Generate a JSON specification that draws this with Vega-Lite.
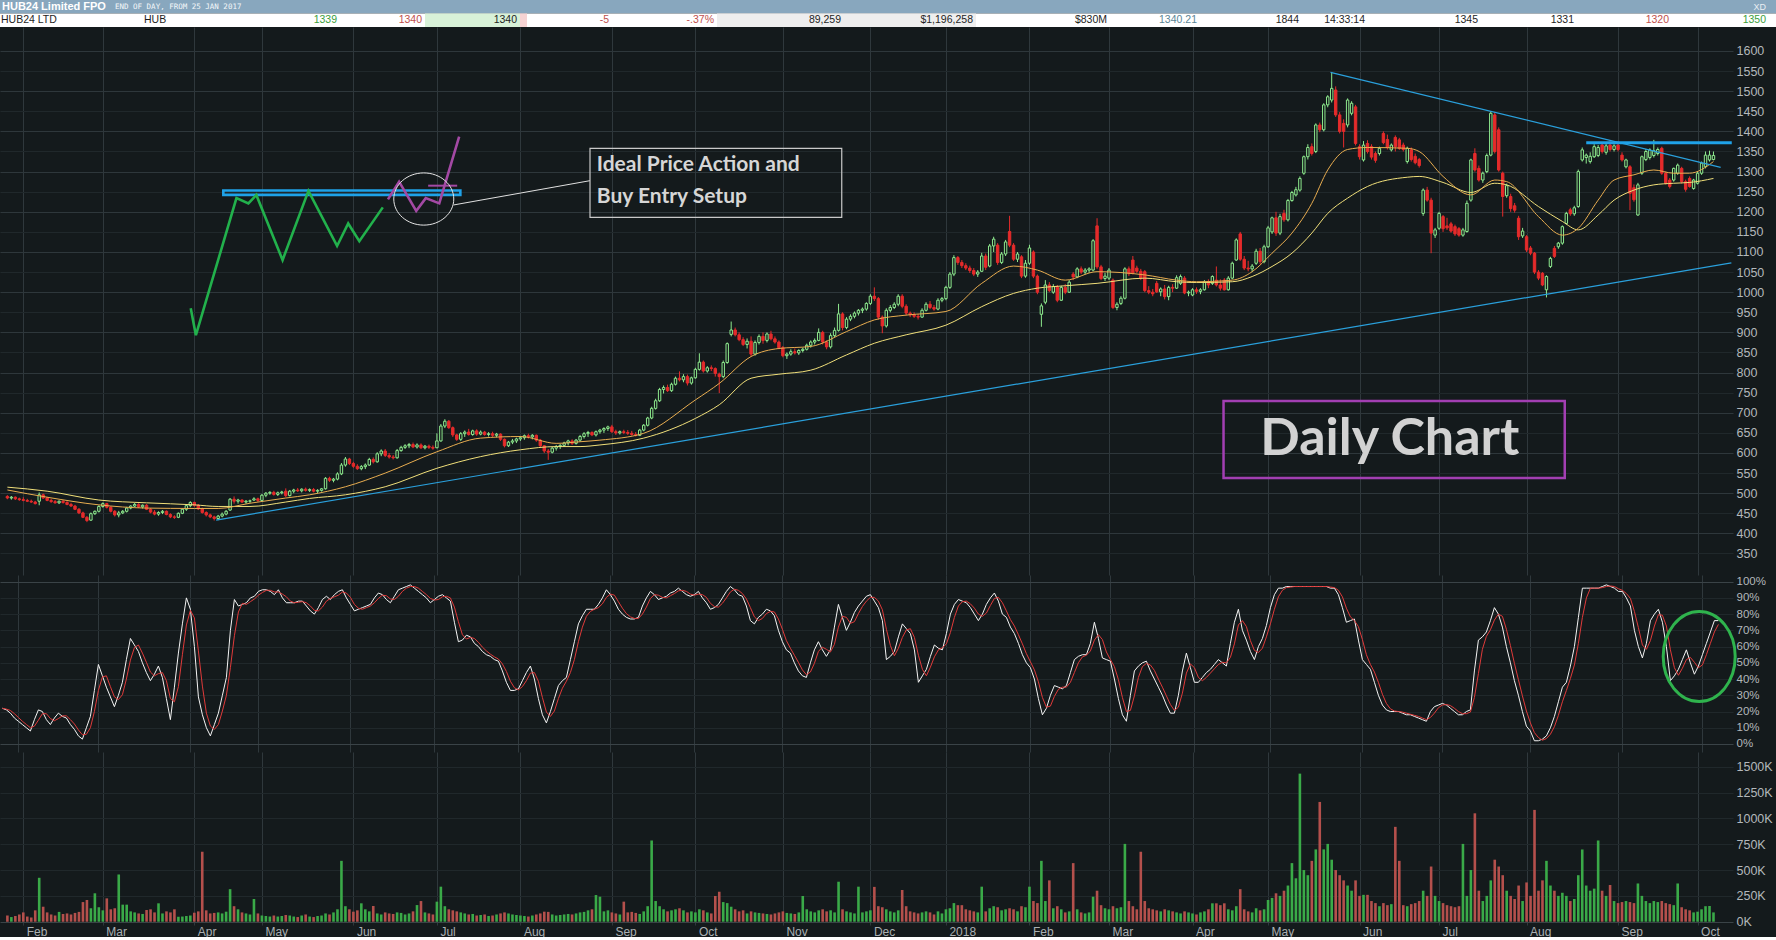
{
  "$schema": "https://vega.github.io/schema/vega-lite/v6.json",
  "background": "#141a1c",
  "padding": 0,
  "spacing": 0,
  "config": {"view": {"stroke": null}, "concat": {"spacing": 0}},
  "datasets": {
    "cells": [
      {"row": "title", "from": 0, "to": 20, "tone": "bar"},
      {"row": "info", "from": 0, "to": 20, "tone": "sheet"},
      {"row": "info", "from": 4, "to": 5, "tone": "bid"},
      {"row": "info", "from": 5, "to": 6, "tone": "ask"},
      {"row": "info", "from": 8, "to": 10, "tone": "shade"}
    ],
    "head": [
      {"row": "title", "col": 0, "role": "name", "text": "HUB24 Limited FPO"},
      {"row": "title", "col": 1, "role": "source", "text": "END OF DAY, FROM 25 JAN 2017"},
      {"row": "title", "col": 19, "role": "flag", "text": "XD"},
      {"row": "info", "col": 0, "role": "label", "text": "HUB24 LTD", "tone": "plain"},
      {"row": "info", "col": 2, "role": "label", "text": "HUB", "tone": "plain"},
      {"row": "info", "col": 3, "role": "value", "text": "1339", "tone": "up"},
      {"row": "info", "col": 4, "role": "value", "text": "1340", "tone": "down"},
      {"row": "info", "col": 5, "role": "value", "text": "1340", "tone": "plain"},
      {"row": "info", "col": 7, "role": "value", "text": "-5", "tone": "down"},
      {"row": "info", "col": 8, "role": "value", "text": "-.37%", "tone": "down"},
      {"row": "info", "col": 9, "role": "value", "text": "89,259", "tone": "plain"},
      {"row": "info", "col": 10, "role": "value", "text": "$1,196,258", "tone": "plain"},
      {"row": "info", "col": 12, "role": "value", "text": "$830M", "tone": "plain"},
      {"row": "info", "col": 13, "role": "value", "text": "1340.21", "tone": "muted"},
      {"row": "info", "col": 14, "role": "value", "text": "1844", "tone": "plain"},
      {"row": "info", "col": 15, "role": "value", "text": "14:33:14", "tone": "plain"},
      {"row": "info", "col": 16, "role": "value", "text": "1345", "tone": "plain"},
      {"row": "info", "col": 17, "role": "value", "text": "1331", "tone": "plain"},
      {"row": "info", "col": 18, "role": "value", "text": "1320", "tone": "down"},
      {"row": "info", "col": 19, "role": "value", "text": "1350", "tone": "up"}
    ],
    "ma": [
      {"i": 0, "f": 508, "s": 515}, {"i": 10, "f": 490, "s": 505}, {"i": 23, "f": 471, "s": 483},
      {"i": 35, "f": 463, "s": 476}, {"i": 47, "f": 462, "s": 471}, {"i": 53, "f": 462, "s": 467},
      {"i": 61, "f": 475, "s": 467}, {"i": 70, "f": 488, "s": 478}, {"i": 76, "f": 496, "s": 487},
      {"i": 85, "f": 516, "s": 496}, {"i": 95, "f": 550, "s": 516}, {"i": 108, "f": 603, "s": 562},
      {"i": 119, "f": 637, "s": 591}, {"i": 129, "f": 641, "s": 608}, {"i": 138, "f": 624, "s": 616},
      {"i": 144, "f": 628, "s": 616}, {"i": 149, "f": 632, "s": 620}, {"i": 160, "f": 649, "s": 637},
      {"i": 173, "f": 732, "s": 686}, {"i": 179, "f": 773, "s": 720}, {"i": 187, "f": 840, "s": 786},
      {"i": 194, "f": 860, "s": 796}, {"i": 202, "f": 865, "s": 806}, {"i": 211, "f": 902, "s": 844},
      {"i": 218, "f": 931, "s": 873}, {"i": 226, "f": 943, "s": 894}, {"i": 236, "f": 952, "s": 918},
      {"i": 245, "f": 1022, "s": 964}, {"i": 253, "f": 1065, "s": 997}, {"i": 259, "f": 1055, "s": 1010},
      {"i": 266, "f": 1030, "s": 1016}, {"i": 274, "f": 1051, "s": 1022}, {"i": 286, "f": 1043, "s": 1035},
      {"i": 294, "f": 1030, "s": 1026}, {"i": 299, "f": 1026, "s": 1024}, {"i": 308, "f": 1030, "s": 1026},
      {"i": 313, "f": 1051, "s": 1039}, {"i": 318, "f": 1097, "s": 1064}, {"i": 323, "f": 1147, "s": 1097},
      {"i": 328, "f": 1221, "s": 1147}, {"i": 332, "f": 1304, "s": 1196}, {"i": 337, "f": 1355, "s": 1234},
      {"i": 342, "f": 1360, "s": 1263}, {"i": 352, "f": 1358, "s": 1286}, {"i": 355, "f": 1350, "s": 1288},
      {"i": 361, "f": 1288, "s": 1273}, {"i": 368, "f": 1242, "s": 1248}, {"i": 374, "f": 1279, "s": 1271},
      {"i": 377, "f": 1275, "s": 1267}, {"i": 385, "f": 1188, "s": 1213}, {"i": 391, "f": 1142, "s": 1176},
      {"i": 395, "f": 1159, "s": 1155}, {"i": 400, "f": 1229, "s": 1192}, {"i": 404, "f": 1279, "s": 1229},
      {"i": 409, "f": 1292, "s": 1254}, {"i": 414, "f": 1304, "s": 1267}, {"i": 419, "f": 1296, "s": 1271},
      {"i": 423, "f": 1296, "s": 1273}, {"i": 429, "f": 1325, "s": 1283}
    ],
    "sketch": [
      {"path": "ideal", "i": 46.1, "p": 960}, {"path": "ideal", "i": 47.4, "p": 893},
      {"path": "ideal", "i": 57.6, "p": 1234}, {"path": "ideal", "i": 60.6, "p": 1221},
      {"path": "ideal", "i": 62.6, "p": 1242}, {"path": "ideal", "i": 69.2, "p": 1080},
      {"path": "ideal", "i": 75.7, "p": 1252}, {"path": "ideal", "i": 82.9, "p": 1115},
      {"path": "ideal", "i": 85.7, "p": 1171}, {"path": "ideal", "i": 88.5, "p": 1127},
      {"path": "ideal", "i": 94.4, "p": 1211},
      {"path": "entry", "i": 95.7, "p": 1231}, {"path": "entry", "i": 98.5, "p": 1275},
      {"path": "entry", "i": 102.8, "p": 1202}, {"path": "entry", "i": 105.2, "p": 1234},
      {"path": "entry", "i": 108.6, "p": 1221}, {"path": "entry", "i": 113.6, "p": 1387}
    ],
    "notes": [
      {"kind": "zone", "i": 54.3, "i2": 113.9, "p": 1242, "p2": 1253},
      {"kind": "trigger", "i": 105.8, "i2": 113.1, "p": 1265, "p2": 1265},
      {"kind": "ring", "i": 104.7, "p": 1231.8},
      {"kind": "leader", "i": 112.2, "i2": 146.5, "p": 1217, "p2": 1277.4},
      {"kind": "callout", "i": 146.5, "i2": 209.8, "p": 1186.3, "p2": 1358},
      {"kind": "callout_text", "i": 148.2, "p": 1316.4, "text": "Ideal Price Action and"},
      {"kind": "callout_text", "i": 148.2, "p": 1236, "text": "Buy Entry Setup"},
      {"kind": "badge", "i": 305.8, "i2": 391.6, "p": 537.8, "p2": 729.4},
      {"kind": "badge_text", "i": 347.6, "p": 633.6, "text": "Daily Chart"},
      {"kind": "support", "i": 52.5, "i2": 433.5, "p": 433, "p2": 1073},
      {"kind": "resistance", "i": 332.7, "i2": 430.8, "p": 1547, "p2": 1310.7},
      {"kind": "level", "i": 397, "i2": 433.6, "p": 1372, "p2": 1372}
    ],
    "stochNote": [{"i": 424.2, "k": 53.9}],
    "ohlc": [
{"i":0,"o":492,"h":495,"l":485,"c":488,"v":60,"k":22},
{"i":1,"o":488,"h":493,"l":484,"c":490,"v":45,"k":21},
{"i":2,"o":490,"h":492,"l":483,"c":486,"v":55,"k":19},
{"i":3,"o":486,"h":489,"l":481,"c":484,"v":70,"k":16},
{"i":4,"o":484,"h":490,"l":480,"c":482,"v":90,"k":14},
{"i":5,"o":482,"h":486,"l":478,"c":480,"v":50,"k":12},
{"i":6,"o":480,"h":484,"l":476,"c":478,"v":40,"k":10},
{"i":7,"o":478,"h":481,"l":472,"c":474,"v":110,"k":8},
{"i":8,"o":480,"h":502,"l":470,"c":496,"v":425,"k":15},
{"i":9,"o":496,"h":499,"l":486,"c":488,"v":145,"k":21},
{"i":10,"o":488,"h":491,"l":480,"c":482,"v":90,"k":20},
{"i":11,"o":482,"h":486,"l":476,"c":479,"v":70,"k":15},
{"i":12,"o":479,"h":483,"l":474,"c":476,"v":60,"k":12},
{"i":13,"o":476,"h":482,"l":473,"c":480,"v":95,"k":16},
{"i":14,"o":480,"h":483,"l":474,"c":477,"v":75,"k":19},
{"i":15,"o":477,"h":480,"l":470,"c":472,"v":80,"k":17},
{"i":16,"o":472,"h":476,"l":466,"c":468,"v":70,"k":16},
{"i":17,"o":468,"h":471,"l":458,"c":460,"v":85,"k":12},
{"i":18,"o":460,"h":463,"l":448,"c":451,"v":95,"k":9},
{"i":19,"o":451,"h":454,"l":438,"c":440,"v":190,"k":5},
{"i":20,"o":440,"h":443,"l":428,"c":432,"v":210,"k":3},
{"i":21,"o":433,"h":452,"l":431,"c":449,"v":130,"k":10},
{"i":22,"o":449,"h":457,"l":446,"c":455,"v":275,"k":17},
{"i":23,"o":455,"h":470,"l":452,"c":467,"v":140,"k":33},
{"i":24,"o":467,"h":477,"l":464,"c":474,"v":110,"k":49},
{"i":25,"o":474,"h":476,"l":462,"c":465,"v":226,"k":42},
{"i":26,"o":465,"h":468,"l":452,"c":455,"v":120,"k":35},
{"i":27,"o":455,"h":458,"l":442,"c":446,"v":130,"k":29},
{"i":28,"o":446,"h":456,"l":440,"c":451,"v":457,"k":23},
{"i":29,"o":451,"h":458,"l":448,"c":455,"v":165,"k":30},
{"i":30,"o":455,"h":466,"l":452,"c":463,"v":165,"k":38},
{"i":31,"o":463,"h":470,"l":460,"c":468,"v":100,"k":52},
{"i":32,"o":468,"h":476,"l":465,"c":472,"v":90,"k":65},
{"i":33,"o":472,"h":475,"l":463,"c":466,"v":80,"k":61},
{"i":34,"o":466,"h":472,"l":462,"c":470,"v":75,"k":57},
{"i":35,"o":470,"h":473,"l":458,"c":460,"v":113,"k":50},
{"i":36,"o":460,"h":463,"l":450,"c":453,"v":120,"k":44},
{"i":37,"o":453,"h":458,"l":445,"c":448,"v":90,"k":39},
{"i":38,"o":448,"h":455,"l":444,"c":452,"v":178,"k":43},
{"i":39,"o":452,"h":458,"l":448,"c":455,"v":80,"k":48},
{"i":40,"o":455,"h":457,"l":445,"c":447,"v":100,"k":41},
{"i":41,"o":447,"h":450,"l":438,"c":441,"v":90,"k":28},
{"i":42,"o":441,"h":445,"l":436,"c":440,"v":120,"k":15},
{"i":43,"o":440,"h":452,"l":438,"c":450,"v":48,"k":35},
{"i":44,"o":450,"h":462,"l":448,"c":460,"v":50,"k":56},
{"i":45,"o":460,"h":472,"l":456,"c":469,"v":55,"k":74},
{"i":46,"o":469,"h":480,"l":465,"c":477,"v":60,"k":90},
{"i":47,"o":477,"h":479,"l":466,"c":470,"v":87,"k":83},
{"i":48,"o":470,"h":473,"l":458,"c":461,"v":100,"k":60},
{"i":49,"o":461,"h":464,"l":449,"c":452,"v":677,"k":29},
{"i":50,"o":452,"h":455,"l":442,"c":446,"v":110,"k":18},
{"i":51,"o":446,"h":449,"l":438,"c":441,"v":80,"k":10},
{"i":52,"o":441,"h":444,"l":432,"c":437,"v":85,"k":5},
{"i":53,"o":437,"h":446,"l":433,"c":443,"v":90,"k":12},
{"i":54,"o":443,"h":452,"l":440,"c":448,"v":80,"k":19},
{"i":55,"o":448,"h":458,"l":445,"c":455,"v":97,"k":30},
{"i":56,"o":458,"h":488,"l":456,"c":485,"v":315,"k":41},
{"i":57,"o":485,"h":492,"l":474,"c":480,"v":150,"k":70},
{"i":58,"o":480,"h":486,"l":474,"c":483,"v":120,"k":89},
{"i":59,"o":483,"h":485,"l":476,"c":478,"v":90,"k":85},
{"i":60,"o":478,"h":483,"l":474,"c":480,"v":80,"k":86},
{"i":61,"o":480,"h":484,"l":476,"c":481,"v":70,"k":87},
{"i":62,"o":483,"h":490,"l":481,"c":486,"v":220,"k":90},
{"i":63,"o":486,"h":489,"l":478,"c":482,"v":80,"k":91},
{"i":64,"o":482,"h":498,"l":480,"c":495,"v":60,"k":94},
{"i":65,"o":495,"h":503,"l":490,"c":500,"v":55,"k":95},
{"i":66,"o":500,"h":505,"l":496,"c":502,"v":50,"k":95},
{"i":67,"o":502,"h":506,"l":494,"c":497,"v":60,"k":94},
{"i":68,"o":497,"h":504,"l":493,"c":501,"v":50,"k":92},
{"i":69,"o":501,"h":506,"l":497,"c":503,"v":55,"k":95},
{"i":70,"o":505,"h":512,"l":490,"c":494,"v":65,"k":90},
{"i":71,"o":494,"h":508,"l":492,"c":505,"v":60,"k":87},
{"i":72,"o":505,"h":511,"l":500,"c":508,"v":50,"k":87},
{"i":73,"o":508,"h":513,"l":503,"c":506,"v":45,"k":87},
{"i":74,"o":506,"h":512,"l":502,"c":510,"v":60,"k":88},
{"i":75,"o":510,"h":514,"l":504,"c":507,"v":70,"k":88},
{"i":76,"o":507,"h":512,"l":503,"c":509,"v":50,"k":85},
{"i":77,"o":509,"h":513,"l":502,"c":505,"v":45,"k":82},
{"i":78,"o":505,"h":510,"l":500,"c":507,"v":55,"k":80},
{"i":79,"o":507,"h":513,"l":504,"c":511,"v":60,"k":84},
{"i":80,"o":511,"h":540,"l":509,"c":537,"v":80,"k":89},
{"i":81,"o":537,"h":541,"l":528,"c":532,"v":70,"k":91},
{"i":82,"o":532,"h":538,"l":527,"c":535,"v":90,"k":89},
{"i":83,"o":535,"h":552,"l":532,"c":548,"v":120,"k":92},
{"i":84,"o":548,"h":575,"l":545,"c":570,"v":589,"k":94},
{"i":85,"o":570,"h":590,"l":566,"c":585,"v":150,"k":95},
{"i":86,"o":585,"h":588,"l":570,"c":574,"v":120,"k":90},
{"i":87,"o":574,"h":578,"l":563,"c":567,"v":97,"k":86},
{"i":88,"o":567,"h":572,"l":558,"c":561,"v":110,"k":82},
{"i":89,"o":561,"h":570,"l":557,"c":566,"v":178,"k":83},
{"i":90,"o":566,"h":574,"l":560,"c":570,"v":120,"k":84},
{"i":91,"o":570,"h":588,"l":568,"c":584,"v":100,"k":85},
{"i":92,"o":584,"h":589,"l":574,"c":578,"v":152,"k":86},
{"i":93,"o":578,"h":602,"l":576,"c":598,"v":80,"k":90},
{"i":94,"o":598,"h":609,"l":592,"c":605,"v":70,"k":93},
{"i":95,"o":605,"h":610,"l":590,"c":594,"v":90,"k":92},
{"i":96,"o":594,"h":600,"l":586,"c":590,"v":80,"k":89},
{"i":97,"o":590,"h":595,"l":584,"c":588,"v":75,"k":87},
{"i":98,"o":588,"h":610,"l":586,"c":606,"v":90,"k":91},
{"i":99,"o":606,"h":618,"l":603,"c":614,"v":85,"k":95},
{"i":100,"o":614,"h":622,"l":610,"c":618,"v":70,"k":96},
{"i":101,"o":618,"h":625,"l":612,"c":621,"v":80,"k":97},
{"i":102,"o":621,"h":626,"l":612,"c":615,"v":100,"k":98},
{"i":103,"o":615,"h":624,"l":611,"c":620,"v":161,"k":96},
{"i":104,"o":620,"h":624,"l":610,"c":613,"v":200,"k":94},
{"i":105,"o":613,"h":620,"l":609,"c":617,"v":90,"k":92},
{"i":106,"o":617,"h":621,"l":610,"c":614,"v":80,"k":90},
{"i":107,"o":614,"h":619,"l":608,"c":612,"v":70,"k":87},
{"i":108,"o":613,"h":649,"l":612,"c":630,"v":194,"k":89},
{"i":109,"o":630,"h":672,"l":628,"c":667,"v":339,"k":91},
{"i":110,"o":667,"h":684,"l":662,"c":679,"v":150,"k":92},
{"i":111,"o":679,"h":682,"l":660,"c":663,"v":120,"k":90},
{"i":112,"o":663,"h":666,"l":640,"c":645,"v":110,"k":88},
{"i":113,"o":645,"h":648,"l":630,"c":634,"v":100,"k":75},
{"i":114,"o":634,"h":652,"l":630,"c":648,"v":90,"k":63},
{"i":115,"o":648,"h":656,"l":640,"c":652,"v":80,"k":64},
{"i":116,"o":652,"h":660,"l":643,"c":646,"v":70,"k":67},
{"i":117,"o":646,"h":658,"l":643,"c":655,"v":75,"k":66},
{"i":118,"o":655,"h":659,"l":643,"c":647,"v":60,"k":62},
{"i":119,"o":647,"h":656,"l":644,"c":652,"v":65,"k":60},
{"i":120,"o":652,"h":655,"l":643,"c":646,"v":70,"k":57},
{"i":121,"o":646,"h":652,"l":641,"c":648,"v":55,"k":55},
{"i":122,"o":648,"h":653,"l":640,"c":644,"v":60,"k":54},
{"i":123,"o":644,"h":650,"l":639,"c":647,"v":70,"k":52},
{"i":124,"o":647,"h":649,"l":630,"c":634,"v":80,"k":51},
{"i":125,"o":634,"h":636,"l":614,"c":618,"v":90,"k":45},
{"i":126,"o":618,"h":630,"l":615,"c":627,"v":80,"k":38},
{"i":127,"o":627,"h":635,"l":622,"c":630,"v":70,"k":33},
{"i":128,"o":630,"h":638,"l":625,"c":635,"v":65,"k":33},
{"i":129,"o":635,"h":642,"l":630,"c":638,"v":60,"k":34},
{"i":130,"o":638,"h":646,"l":633,"c":643,"v":55,"k":39},
{"i":131,"o":643,"h":648,"l":636,"c":640,"v":50,"k":44},
{"i":132,"o":640,"h":647,"l":634,"c":644,"v":60,"k":48},
{"i":133,"o":644,"h":646,"l":628,"c":632,"v":70,"k":40},
{"i":134,"o":632,"h":635,"l":615,"c":618,"v":80,"k":28},
{"i":135,"o":618,"h":620,"l":600,"c":605,"v":97,"k":18},
{"i":136,"o":605,"h":610,"l":583,"c":602,"v":95,"k":13},
{"i":137,"o":602,"h":615,"l":599,"c":612,"v":70,"k":20},
{"i":138,"o":612,"h":620,"l":606,"c":616,"v":60,"k":28},
{"i":139,"o":616,"h":622,"l":610,"c":619,"v":65,"k":36},
{"i":140,"o":619,"h":628,"l":615,"c":625,"v":70,"k":39},
{"i":141,"o":625,"h":633,"l":619,"c":630,"v":75,"k":41},
{"i":142,"o":630,"h":634,"l":620,"c":624,"v":70,"k":52},
{"i":143,"o":624,"h":635,"l":621,"c":632,"v":80,"k":63},
{"i":144,"o":632,"h":645,"l":628,"c":641,"v":90,"k":74},
{"i":145,"o":641,"h":652,"l":636,"c":648,"v":95,"k":79},
{"i":146,"o":648,"h":655,"l":640,"c":651,"v":110,"k":83},
{"i":147,"o":651,"h":654,"l":642,"c":645,"v":120,"k":83},
{"i":148,"o":645,"h":656,"l":641,"c":653,"v":258,"k":83},
{"i":149,"o":653,"h":660,"l":648,"c":657,"v":242,"k":86},
{"i":150,"o":657,"h":664,"l":650,"c":661,"v":100,"k":90},
{"i":151,"o":661,"h":668,"l":655,"c":665,"v":110,"k":95},
{"i":152,"o":665,"h":670,"l":650,"c":653,"v":90,"k":92},
{"i":153,"o":653,"h":658,"l":645,"c":650,"v":80,"k":88},
{"i":154,"o":650,"h":656,"l":646,"c":653,"v":70,"k":83},
{"i":155,"o":653,"h":658,"l":647,"c":651,"v":194,"k":80},
{"i":156,"o":651,"h":657,"l":645,"c":649,"v":90,"k":78},
{"i":157,"o":649,"h":655,"l":643,"c":646,"v":95,"k":77},
{"i":158,"o":646,"h":652,"l":641,"c":644,"v":85,"k":77},
{"i":159,"o":644,"h":660,"l":642,"c":657,"v":75,"k":78},
{"i":160,"o":657,"h":672,"l":654,"c":669,"v":100,"k":85},
{"i":161,"o":669,"h":690,"l":666,"c":687,"v":150,"k":90},
{"i":162,"o":687,"h":715,"l":684,"c":711,"v":786,"k":94},
{"i":163,"o":711,"h":735,"l":708,"c":730,"v":200,"k":92},
{"i":164,"o":730,"h":762,"l":727,"c":758,"v":150,"k":89},
{"i":165,"o":758,"h":768,"l":748,"c":763,"v":120,"k":90},
{"i":166,"o":763,"h":770,"l":752,"c":755,"v":100,"k":91},
{"i":167,"o":755,"h":775,"l":752,"c":771,"v":110,"k":93},
{"i":168,"o":771,"h":790,"l":768,"c":786,"v":120,"k":94},
{"i":169,"o":786,"h":803,"l":778,"c":782,"v":130,"k":96},
{"i":170,"o":782,"h":796,"l":776,"c":790,"v":110,"k":94},
{"i":171,"o":790,"h":795,"l":768,"c":774,"v":90,"k":92},
{"i":172,"o":774,"h":790,"l":770,"c":787,"v":100,"k":91},
{"i":173,"o":787,"h":812,"l":785,"c":808,"v":90,"k":92},
{"i":174,"o":808,"h":848,"l":805,"c":826,"v":120,"k":94},
{"i":175,"o":826,"h":830,"l":800,"c":804,"v":110,"k":90},
{"i":176,"o":804,"h":816,"l":800,"c":812,"v":90,"k":87},
{"i":177,"o":812,"h":818,"l":804,"c":810,"v":80,"k":83},
{"i":178,"o":810,"h":813,"l":790,"c":798,"v":249,"k":84},
{"i":179,"o":796,"h":800,"l":749,"c":790,"v":290,"k":86},
{"i":180,"o":790,"h":830,"l":786,"c":825,"v":190,"k":90},
{"i":181,"o":825,"h":875,"l":822,"c":872,"v":180,"k":94},
{"i":182,"o":895,"h":927,"l":890,"c":906,"v":145,"k":97},
{"i":183,"o":906,"h":912,"l":890,"c":894,"v":120,"k":95},
{"i":184,"o":894,"h":900,"l":878,"c":882,"v":100,"k":92},
{"i":185,"o":882,"h":888,"l":866,"c":870,"v":110,"k":91},
{"i":186,"o":870,"h":885,"l":860,"c":878,"v":80,"k":85},
{"i":187,"o":878,"h":890,"l":840,"c":846,"v":100,"k":76},
{"i":188,"o":846,"h":880,"l":842,"c":875,"v":90,"k":74},
{"i":189,"o":875,"h":895,"l":870,"c":890,"v":85,"k":78},
{"i":190,"o":890,"h":900,"l":872,"c":880,"v":80,"k":80},
{"i":191,"o":880,"h":900,"l":875,"c":896,"v":75,"k":83},
{"i":192,"o":896,"h":904,"l":880,"c":884,"v":70,"k":82},
{"i":193,"o":884,"h":890,"l":872,"c":876,"v":80,"k":79},
{"i":194,"o":876,"h":880,"l":858,"c":862,"v":90,"k":70},
{"i":195,"o":862,"h":866,"l":838,"c":842,"v":100,"k":63},
{"i":196,"o":842,"h":850,"l":834,"c":846,"v":85,"k":58},
{"i":197,"o":846,"h":858,"l":842,"c":852,"v":80,"k":56},
{"i":198,"o":852,"h":860,"l":845,"c":849,"v":75,"k":50},
{"i":199,"o":849,"h":858,"l":844,"c":855,"v":90,"k":45},
{"i":200,"o":855,"h":862,"l":850,"c":858,"v":249,"k":42},
{"i":201,"o":858,"h":872,"l":855,"c":868,"v":120,"k":41},
{"i":202,"o":868,"h":880,"l":862,"c":876,"v":100,"k":50},
{"i":203,"o":876,"h":885,"l":870,"c":880,"v":90,"k":58},
{"i":204,"o":880,"h":910,"l":878,"c":900,"v":110,"k":63},
{"i":205,"o":900,"h":904,"l":870,"c":876,"v":120,"k":58},
{"i":206,"o":876,"h":880,"l":858,"c":864,"v":100,"k":54},
{"i":207,"o":864,"h":898,"l":860,"c":892,"v":110,"k":58},
{"i":208,"o":892,"h":912,"l":888,"c":905,"v":90,"k":72},
{"i":209,"o":905,"h":971,"l":902,"c":946,"v":387,"k":86},
{"i":210,"o":946,"h":950,"l":905,"c":912,"v":120,"k":78},
{"i":211,"o":912,"h":938,"l":908,"c":933,"v":100,"k":70},
{"i":212,"o":933,"h":945,"l":928,"c":940,"v":90,"k":75},
{"i":213,"o":940,"h":952,"l":935,"c":948,"v":80,"k":81},
{"i":214,"o":948,"h":958,"l":942,"c":955,"v":339,"k":85},
{"i":215,"o":955,"h":962,"l":948,"c":958,"v":90,"k":88},
{"i":216,"o":958,"h":975,"l":954,"c":972,"v":100,"k":91},
{"i":217,"o":972,"h":995,"l":968,"c":990,"v":110,"k":92},
{"i":218,"o":990,"h":1012,"l":978,"c":984,"v":337,"k":88},
{"i":219,"o":984,"h":988,"l":932,"c":938,"v":150,"k":84},
{"i":220,"o":938,"h":942,"l":898,"c":916,"v":140,"k":76},
{"i":221,"o":916,"h":960,"l":912,"c":955,"v":120,"k":52},
{"i":222,"o":955,"h":968,"l":950,"c":962,"v":100,"k":54},
{"i":223,"o":962,"h":975,"l":958,"c":970,"v":90,"k":57},
{"i":224,"o":970,"h":995,"l":965,"c":990,"v":110,"k":66},
{"i":225,"o":990,"h":995,"l":960,"c":965,"v":307,"k":74},
{"i":226,"o":965,"h":970,"l":942,"c":948,"v":150,"k":71},
{"i":227,"o":948,"h":952,"l":938,"c":944,"v":100,"k":68},
{"i":228,"o":944,"h":950,"l":936,"c":940,"v":90,"k":58},
{"i":229,"o":940,"h":946,"l":932,"c":938,"v":80,"k":38},
{"i":230,"o":938,"h":960,"l":936,"c":955,"v":90,"k":42},
{"i":231,"o":955,"h":975,"l":952,"c":970,"v":100,"k":46},
{"i":232,"o":970,"h":978,"l":958,"c":962,"v":90,"k":54},
{"i":233,"o":962,"h":968,"l":954,"c":958,"v":70,"k":61},
{"i":234,"o":958,"h":985,"l":955,"c":980,"v":100,"k":59},
{"i":235,"o":980,"h":988,"l":975,"c":984,"v":80,"k":58},
{"i":236,"o":984,"h":1016,"l":980,"c":1012,"v":120,"k":68},
{"i":237,"o":1012,"h":1050,"l":1008,"c":1045,"v":130,"k":80},
{"i":238,"o":1045,"h":1092,"l":1040,"c":1086,"v":180,"k":86},
{"i":239,"o":1086,"h":1090,"l":1068,"c":1074,"v":160,"k":89},
{"i":240,"o":1074,"h":1080,"l":1060,"c":1066,"v":160,"k":88},
{"i":241,"o":1066,"h":1072,"l":1055,"c":1060,"v":120,"k":87},
{"i":242,"o":1060,"h":1066,"l":1048,"c":1054,"v":110,"k":84},
{"i":243,"o":1054,"h":1060,"l":1040,"c":1045,"v":100,"k":80},
{"i":244,"o":1045,"h":1055,"l":1038,"c":1050,"v":90,"k":76},
{"i":245,"o":1052,"h":1098,"l":1050,"c":1090,"v":339,"k":80},
{"i":246,"o":1090,"h":1096,"l":1055,"c":1062,"v":100,"k":86},
{"i":247,"o":1065,"h":1120,"l":1062,"c":1115,"v":130,"k":90},
{"i":248,"o":1115,"h":1138,"l":1100,"c":1132,"v":150,"k":93},
{"i":249,"o":1117,"h":1122,"l":1068,"c":1074,"v":140,"k":88},
{"i":250,"o":1074,"h":1100,"l":1070,"c":1095,"v":110,"k":80},
{"i":251,"o":1095,"h":1130,"l":1090,"c":1125,"v":120,"k":78},
{"i":252,"o":1151,"h":1190,"l":1112,"c":1117,"v":130,"k":72},
{"i":253,"o":1117,"h":1122,"l":1078,"c":1082,"v":120,"k":68},
{"i":254,"o":1082,"h":1100,"l":1075,"c":1095,"v":100,"k":62},
{"i":255,"o":1088,"h":1092,"l":1035,"c":1040,"v":150,"k":55},
{"i":256,"o":1040,"h":1080,"l":1036,"c":1072,"v":140,"k":50},
{"i":257,"o":1072,"h":1118,"l":1068,"c":1110,"v":339,"k":47},
{"i":258,"o":1100,"h":1104,"l":1035,"c":1040,"v":200,"k":40},
{"i":259,"o":1040,"h":1044,"l":995,"c":1000,"v":180,"k":28},
{"i":260,"o":945,"h":972,"l":914,"c":966,"v":589,"k":18},
{"i":261,"o":975,"h":1030,"l":970,"c":1018,"v":200,"k":22},
{"i":262,"o":1018,"h":1025,"l":1000,"c":1004,"v":400,"k":30},
{"i":263,"o":1000,"h":1020,"l":996,"c":1014,"v":130,"k":36},
{"i":264,"o":1014,"h":1018,"l":975,"c":980,"v":150,"k":35},
{"i":265,"o":980,"h":1016,"l":978,"c":1012,"v":120,"k":34},
{"i":266,"o":1012,"h":1020,"l":995,"c":1000,"v":90,"k":36},
{"i":267,"o":1000,"h":1030,"l":998,"c":1025,"v":100,"k":44},
{"i":268,"o":1045,"h":1050,"l":1030,"c":1038,"v":567,"k":52},
{"i":269,"o":1038,"h":1062,"l":1035,"c":1058,"v":120,"k":54},
{"i":270,"o":1058,"h":1064,"l":1045,"c":1050,"v":90,"k":55},
{"i":271,"o":1050,"h":1060,"l":1044,"c":1055,"v":80,"k":55},
{"i":272,"o":1055,"h":1062,"l":1048,"c":1058,"v":90,"k":62},
{"i":273,"o":1055,"h":1132,"l":1052,"c":1128,"v":242,"k":75},
{"i":274,"o":1165,"h":1184,"l":1058,"c":1063,"v":300,"k":65},
{"i":275,"o":1063,"h":1068,"l":1030,"c":1034,"v":160,"k":53},
{"i":276,"o":1034,"h":1048,"l":1028,"c":1040,"v":130,"k":52},
{"i":277,"o":1035,"h":1060,"l":1030,"c":1055,"v":120,"k":51},
{"i":278,"o":1030,"h":1034,"l":958,"c":962,"v":150,"k":40},
{"i":279,"o":962,"h":975,"l":955,"c":970,"v":130,"k":28},
{"i":280,"o":972,"h":990,"l":968,"c":985,"v":140,"k":18},
{"i":281,"o":985,"h":1062,"l":982,"c":1058,"v":753,"k":14},
{"i":282,"o":1058,"h":1064,"l":1040,"c":1046,"v":200,"k":30},
{"i":283,"o":1080,"h":1090,"l":1044,"c":1048,"v":150,"k":45},
{"i":284,"o":1060,"h":1066,"l":1048,"c":1052,"v":120,"k":48},
{"i":285,"o":1052,"h":1058,"l":1030,"c":1035,"v":677,"k":50},
{"i":286,"o":1051,"h":1055,"l":1000,"c":1004,"v":200,"k":51},
{"i":287,"o":1004,"h":1015,"l":995,"c":1000,"v":130,"k":45},
{"i":288,"o":1000,"h":1008,"l":990,"c":996,"v":120,"k":40},
{"i":289,"o":1022,"h":1028,"l":998,"c":1001,"v":110,"k":35},
{"i":290,"o":1001,"h":1012,"l":990,"c":1008,"v":100,"k":30},
{"i":291,"o":1008,"h":1018,"l":982,"c":989,"v":120,"k":24},
{"i":292,"o":989,"h":1016,"l":980,"c":1012,"v":110,"k":19},
{"i":293,"o":1012,"h":1020,"l":1000,"c":1010,"v":100,"k":19},
{"i":294,"o":1010,"h":1042,"l":1008,"c":1036,"v":90,"k":30},
{"i":295,"o":1022,"h":1044,"l":1018,"c":1039,"v":80,"k":45},
{"i":296,"o":1035,"h":1040,"l":995,"c":998,"v":100,"k":56},
{"i":297,"o":998,"h":1004,"l":990,"c":1000,"v":90,"k":47},
{"i":298,"o":993,"h":1010,"l":990,"c":1006,"v":80,"k":38},
{"i":299,"o":1006,"h":1012,"l":996,"c":1002,"v":70,"k":38},
{"i":300,"o":1002,"h":1010,"l":995,"c":1006,"v":90,"k":41},
{"i":301,"o":1006,"h":1030,"l":1004,"c":1026,"v":100,"k":44},
{"i":302,"o":1026,"h":1032,"l":1010,"c":1018,"v":120,"k":46},
{"i":303,"o":1022,"h":1042,"l":1018,"c":1039,"v":178,"k":49},
{"i":304,"o":1030,"h":1064,"l":1014,"c":1018,"v":178,"k":52},
{"i":305,"o":1018,"h":1032,"l":1004,"c":1010,"v":160,"k":50},
{"i":306,"o":1030,"h":1035,"l":1004,"c":1006,"v":178,"k":48},
{"i":307,"o":1006,"h":1040,"l":1004,"c":1035,"v":120,"k":62},
{"i":308,"o":1035,"h":1076,"l":1032,"c":1072,"v":110,"k":75},
{"i":309,"o":1080,"h":1134,"l":1078,"c":1130,"v":150,"k":83},
{"i":310,"o":1145,"h":1150,"l":1078,"c":1082,"v":315,"k":70},
{"i":311,"o":1082,"h":1090,"l":1055,"c":1060,"v":120,"k":64},
{"i":312,"o":1060,"h":1078,"l":1052,"c":1058,"v":100,"k":57},
{"i":313,"o":1058,"h":1070,"l":1050,"c":1065,"v":90,"k":52},
{"i":314,"o":1072,"h":1108,"l":1068,"c":1102,"v":130,"k":60},
{"i":315,"o":1102,"h":1110,"l":1070,"c":1076,"v":110,"k":65},
{"i":316,"o":1076,"h":1118,"l":1072,"c":1113,"v":120,"k":73},
{"i":317,"o":1113,"h":1165,"l":1110,"c":1160,"v":210,"k":84},
{"i":318,"o":1150,"h":1188,"l":1145,"c":1185,"v":230,"k":92},
{"i":319,"o":1185,"h":1200,"l":1140,"c":1147,"v":275,"k":96},
{"i":320,"o":1147,"h":1195,"l":1142,"c":1188,"v":250,"k":96},
{"i":321,"o":1196,"h":1205,"l":1175,"c":1180,"v":300,"k":97},
{"i":322,"o":1180,"h":1232,"l":1176,"c":1228,"v":350,"k":97},
{"i":323,"o":1228,"h":1252,"l":1225,"c":1248,"v":567,"k":97},
{"i":324,"o":1242,"h":1262,"l":1238,"c":1255,"v":420,"k":97},
{"i":325,"o":1254,"h":1288,"l":1250,"c":1283,"v":1433,"k":97},
{"i":326,"o":1296,"h":1340,"l":1292,"c":1337,"v":500,"k":97},
{"i":327,"o":1337,"h":1368,"l":1330,"c":1360,"v":450,"k":97},
{"i":328,"o":1362,"h":1370,"l":1340,"c":1345,"v":589,"k":97},
{"i":329,"o":1350,"h":1420,"l":1346,"c":1416,"v":700,"k":97},
{"i":330,"o":1416,"h":1422,"l":1398,"c":1404,"v":1159,"k":97},
{"i":331,"o":1404,"h":1470,"l":1400,"c":1466,"v":700,"k":97},
{"i":332,"o":1466,"h":1490,"l":1460,"c":1486,"v":753,"k":96},
{"i":333,"o":1478,"h":1547,"l":1472,"c":1507,"v":600,"k":96},
{"i":334,"o":1503,"h":1512,"l":1436,"c":1441,"v":500,"k":92},
{"i":335,"o":1441,"h":1448,"l":1395,"c":1400,"v":450,"k":84},
{"i":336,"o":1420,"h":1430,"l":1360,"c":1400,"v":400,"k":75},
{"i":337,"o":1416,"h":1482,"l":1410,"c":1478,"v":350,"k":76},
{"i":338,"o":1445,"h":1475,"l":1440,"c":1470,"v":300,"k":77},
{"i":339,"o":1461,"h":1466,"l":1365,"c":1370,"v":400,"k":64},
{"i":340,"o":1362,"h":1368,"l":1330,"c":1337,"v":250,"k":52},
{"i":341,"o":1329,"h":1376,"l":1325,"c":1366,"v":260,"k":49},
{"i":342,"o":1370,"h":1378,"l":1345,"c":1350,"v":260,"k":46},
{"i":343,"o":1362,"h":1368,"l":1330,"c":1336,"v":200,"k":38},
{"i":344,"o":1345,"h":1350,"l":1322,"c":1328,"v":180,"k":30},
{"i":345,"o":1345,"h":1362,"l":1340,"c":1358,"v":150,"k":24},
{"i":346,"o":1395,"h":1400,"l":1368,"c":1372,"v":180,"k":21},
{"i":347,"o":1380,"h":1392,"l":1355,"c":1360,"v":160,"k":20},
{"i":348,"o":1354,"h":1370,"l":1350,"c":1366,"v":170,"k":20},
{"i":349,"o":1385,"h":1390,"l":1350,"c":1362,"v":918,"k":20},
{"i":350,"o":1379,"h":1384,"l":1354,"c":1358,"v":589,"k":19},
{"i":351,"o":1366,"h":1372,"l":1350,"c":1355,"v":160,"k":18},
{"i":352,"o":1325,"h":1362,"l":1320,"c":1358,"v":150,"k":18},
{"i":353,"o":1354,"h":1360,"l":1325,"c":1330,"v":170,"k":17},
{"i":354,"o":1338,"h":1345,"l":1318,"c":1322,"v":180,"k":16},
{"i":355,"o":1330,"h":1334,"l":1310,"c":1315,"v":200,"k":15},
{"i":356,"o":1196,"h":1258,"l":1190,"c":1254,"v":300,"k":14},
{"i":357,"o":1254,"h":1262,"l":1225,"c":1229,"v":250,"k":20},
{"i":358,"o":1229,"h":1235,"l":1097,"c":1147,"v":534,"k":23},
{"i":359,"o":1142,"h":1160,"l":1135,"c":1155,"v":250,"k":24},
{"i":360,"o":1159,"h":1200,"l":1155,"c":1196,"v":200,"k":25},
{"i":361,"o":1188,"h":1192,"l":1150,"c":1158,"v":180,"k":24},
{"i":362,"o":1165,"h":1185,"l":1155,"c":1160,"v":160,"k":22},
{"i":363,"o":1170,"h":1175,"l":1148,"c":1152,"v":150,"k":20},
{"i":364,"o":1163,"h":1168,"l":1140,"c":1145,"v":140,"k":18},
{"i":365,"o":1158,"h":1162,"l":1138,"c":1142,"v":150,"k":18},
{"i":366,"o":1142,"h":1160,"l":1138,"c":1155,"v":753,"k":20},
{"i":367,"o":1151,"h":1228,"l":1148,"c":1221,"v":250,"k":21},
{"i":368,"o":1229,"h":1332,"l":1225,"c":1329,"v":500,"k":45},
{"i":369,"o":1345,"h":1358,"l":1300,"c":1304,"v":1049,"k":64},
{"i":370,"o":1308,"h":1315,"l":1275,"c":1279,"v":300,"k":66},
{"i":371,"o":1279,"h":1300,"l":1272,"c":1296,"v":200,"k":69},
{"i":372,"o":1300,"h":1345,"l":1296,"c":1340,"v":250,"k":76},
{"i":373,"o":1341,"h":1450,"l":1338,"c":1445,"v":400,"k":84},
{"i":374,"o":1441,"h":1448,"l":1345,"c":1350,"v":600,"k":80},
{"i":375,"o":1404,"h":1410,"l":1300,"c":1304,"v":534,"k":72},
{"i":376,"o":1296,"h":1300,"l":1188,"c":1238,"v":450,"k":60},
{"i":377,"o":1240,"h":1270,"l":1235,"c":1265,"v":300,"k":50},
{"i":378,"o":1238,"h":1245,"l":1200,"c":1208,"v":250,"k":39},
{"i":379,"o":1215,"h":1222,"l":1198,"c":1204,"v":220,"k":30},
{"i":380,"o":1184,"h":1190,"l":1130,"c":1138,"v":350,"k":20},
{"i":381,"o":1140,"h":1160,"l":1135,"c":1152,"v":200,"k":11},
{"i":382,"o":1138,"h":1142,"l":1100,"c":1105,"v":380,"k":8},
{"i":383,"o":1110,"h":1115,"l":1092,"c":1097,"v":250,"k":2},
{"i":384,"o":1097,"h":1100,"l":1045,"c":1050,"v":1082,"k":2},
{"i":385,"o":1050,"h":1055,"l":1030,"c":1035,"v":300,"k":3},
{"i":386,"o":1047,"h":1050,"l":1015,"c":1018,"v":400,"k":5},
{"i":387,"o":1006,"h":1042,"l":987,"c":1039,"v":589,"k":10},
{"i":388,"o":1064,"h":1088,"l":1060,"c":1084,"v":350,"k":17},
{"i":389,"o":1109,"h":1115,"l":1085,"c":1089,"v":300,"k":26},
{"i":390,"o":1113,"h":1125,"l":1108,"c":1122,"v":250,"k":35},
{"i":391,"o":1122,"h":1166,"l":1118,"c":1163,"v":280,"k":38},
{"i":392,"o":1171,"h":1200,"l":1168,"c":1196,"v":250,"k":48},
{"i":393,"o":1205,"h":1210,"l":1190,"c":1195,"v":200,"k":60},
{"i":394,"o":1195,"h":1215,"l":1190,"c":1210,"v":220,"k":78},
{"i":395,"o":1213,"h":1305,"l":1210,"c":1300,"v":450,"k":96},
{"i":396,"o":1329,"h":1360,"l":1325,"c":1354,"v":699,"k":96},
{"i":397,"o":1335,"h":1345,"l":1320,"c":1341,"v":350,"k":96},
{"i":398,"o":1325,"h":1348,"l":1320,"c":1338,"v":300,"k":96},
{"i":399,"o":1337,"h":1368,"l":1334,"c":1362,"v":320,"k":96},
{"i":400,"o":1340,"h":1366,"l":1336,"c":1360,"v":786,"k":97},
{"i":401,"o":1366,"h":1372,"l":1345,"c":1350,"v":300,"k":98},
{"i":402,"o":1348,"h":1370,"l":1342,"c":1364,"v":250,"k":97},
{"i":403,"o":1366,"h":1375,"l":1350,"c":1355,"v":355,"k":96},
{"i":404,"o":1355,"h":1368,"l":1350,"c":1364,"v":200,"k":94},
{"i":405,"o":1366,"h":1372,"l":1350,"c":1355,"v":180,"k":94},
{"i":406,"o":1341,"h":1348,"l":1325,"c":1329,"v":190,"k":90},
{"i":407,"o":1312,"h":1332,"l":1308,"c":1329,"v":200,"k":85},
{"i":408,"o":1312,"h":1316,"l":1204,"c":1246,"v":190,"k":70},
{"i":409,"o":1260,"h":1268,"l":1225,"c":1230,"v":180,"k":60},
{"i":410,"o":1192,"h":1272,"l":1190,"c":1267,"v":370,"k":53},
{"i":411,"o":1296,"h":1340,"l":1292,"c":1337,"v":250,"k":62},
{"i":412,"o":1330,"h":1356,"l":1326,"c":1350,"v":200,"k":76},
{"i":413,"o":1335,"h":1358,"l":1330,"c":1354,"v":180,"k":80},
{"i":414,"o":1340,"h":1379,"l":1335,"c":1352,"v":200,"k":83},
{"i":415,"o":1345,"h":1360,"l":1340,"c":1355,"v":190,"k":75},
{"i":416,"o":1358,"h":1362,"l":1292,"c":1296,"v":200,"k":60},
{"i":417,"o":1296,"h":1300,"l":1268,"c":1271,"v":180,"k":39},
{"i":418,"o":1279,"h":1284,"l":1258,"c":1263,"v":170,"k":42},
{"i":419,"o":1279,"h":1310,"l":1275,"c":1308,"v":160,"k":46},
{"i":420,"o":1296,"h":1320,"l":1292,"c":1316,"v":370,"k":52},
{"i":421,"o":1308,"h":1312,"l":1270,"c":1275,"v":140,"k":58},
{"i":422,"o":1275,"h":1280,"l":1250,"c":1256,"v":120,"k":50},
{"i":423,"o":1283,"h":1288,"l":1260,"c":1263,"v":110,"k":43},
{"i":424,"o":1258,"h":1282,"l":1255,"c":1279,"v":90,"k":48},
{"i":425,"o":1271,"h":1300,"l":1268,"c":1296,"v":97,"k":55},
{"i":426,"o":1296,"h":1325,"l":1292,"c":1321,"v":120,"k":62},
{"i":427,"o":1312,"h":1350,"l":1308,"c":1341,"v":150,"k":69},
{"i":428,"o":1329,"h":1352,"l":1325,"c":1341,"v":152,"k":76},
{"i":429,"o":1330,"h":1350,"l":1328,"c":1340,"v":90,"k":76}
    ]
  },
  "vconcat": [
    {
      "width": 1776,
      "height": 27,
      "layer": [
        {
          "data": {"name": "cells"},
          "mark": {"type": "rect"},
          "encoding": {
            "x": {"field": "from", "type": "quantitative", "axis": null,
              "scale": {"type": "linear", "nice": false, "zero": false,
                "domain": [0,1,2,3,4,5,6,7,8,9,10,11,12,13,14,15,16,17,18,19,20],
                "range": [0,115,143,340,425,520,527,612,717,844,976,1018,1110,1200,1302,1368,1481,1577,1672,1769,1776]}},
            "x2": {"field": "to"},
            "y": {"field": "row", "type": "nominal", "axis": null,
              "scale": {"domain": ["title", "info"], "paddingInner": 0, "paddingOuter": 0}},
            "fill": {"field": "tone", "type": "nominal", "legend": null,
              "scale": {"domain": ["bar", "sheet", "bid", "ask", "shade"],
                "range": ["#88a7be", "#ffffff", "#d8f1d8", "#f6d3d3", "#eeeeee"]}}
          }
        },
        {
          "data": {"name": "head"},
          "transform": [{"filter": "datum.role === 'name'"}],
          "mark": {"type": "text", "align": "left", "dx": 2, "font": "Liberation Sans", "fontSize": 11, "fontWeight": "bold", "color": "#ffffff", "baseline": "middle"},
          "encoding": {
            "x": {"field": "col", "type": "quantitative", "axis": null},
            "y": {"field": "row", "type": "nominal", "axis": null},
            "text": {"field": "text"}
          }
        },
        {
          "data": {"name": "head"},
          "transform": [{"filter": "datum.role === 'source'"}],
          "mark": {"type": "text", "align": "left", "font": "DejaVu Sans Mono", "fontSize": 7.5, "color": "#f4f7fa", "baseline": "middle"},
          "encoding": {
            "x": {"field": "col", "type": "quantitative", "axis": null},
            "y": {"field": "row", "type": "nominal", "axis": null},
            "text": {"field": "text"}
          }
        },
        {
          "data": {"name": "head"},
          "transform": [{"filter": "datum.role === 'flag'"}],
          "mark": {"type": "text", "align": "right", "dx": -3, "font": "Liberation Sans", "fontSize": 9, "color": "#e8eef3", "baseline": "middle"},
          "encoding": {
            "x": {"field": "col", "type": "quantitative", "axis": null},
            "y": {"field": "row", "type": "nominal", "axis": null},
            "text": {"field": "text"}
          }
        },
        {
          "data": {"name": "head"},
          "transform": [{"filter": "datum.role === 'label'"}],
          "mark": {"type": "text", "align": "left", "dx": 1, "font": "Liberation Sans", "fontSize": 10.5, "baseline": "middle"},
          "encoding": {
            "x": {"field": "col", "type": "quantitative", "axis": null},
            "y": {"field": "row", "type": "nominal", "axis": null},
            "text": {"field": "text"},
            "color": {"field": "tone", "type": "nominal", "legend": null,
              "scale": {"domain": ["plain", "up", "down", "muted"], "range": ["#1e1e1e", "#3c9e3c", "#c0504d", "#5d8696"]}}
          }
        },
        {
          "data": {"name": "head"},
          "transform": [{"filter": "datum.role === 'value'"}],
          "mark": {"type": "text", "align": "right", "dx": -3, "font": "Liberation Sans", "fontSize": 10.5, "baseline": "middle"},
          "encoding": {
            "x": {"field": "col", "type": "quantitative", "axis": null},
            "y": {"field": "row", "type": "nominal", "axis": null},
            "text": {"field": "text"},
            "color": {"field": "tone", "type": "nominal", "legend": null,
              "scale": {"domain": ["plain", "up", "down", "muted"], "range": ["#1e1e1e", "#3c9e3c", "#c0504d", "#5d8696"]}}
          }
        }
      ]
    },
    {
      "width": 1733,
      "height": 548,
      "resolve": {"axis": {"x": "independent", "y": "independent"}},
      "layer": [
        {
          "data": {"name": "ohlc"},
          "mark": {"type": "rule", "strokeWidth": 1, "clip": true},
          "encoding": {
            "x": {"field": "i", "type": "quantitative",
              "scale": {"domain": [-0.6, 432.65], "nice": false, "zero": false},
              "axis": {"values": [4,24,47,64,87,108,129,152,173,195,217,236,257,277,298,317,340,360,382,405,425],
                "grid": true, "gridColor": "#2f383c", "labels": false, "ticks": false, "domain": false, "title": null}},
            "y": {"field": "l", "type": "quantitative",
              "scale": {"domain": [296.5, 1659.7], "nice": false, "zero": false},
              "axis": {"orient": "right", "values": [350,400,450,500,550,600,650,700,750,800,850,900,950,1000,1050,1100,1150,1200,1250,1300,1350,1400,1450,1500,1550,1600],
                "format": "d", "labelOverlap": false, "labelBound": false,
                "grid": true, "gridColor": {"condition": {"test": "datum.value % 100 === 0", "value": "#2e373b"}, "value": "#20282b"},
                "ticks": false, "domain": false, "labelPadding": 3, "labelColor": "#b3b8bb", "labelFont": "Liberation Sans", "labelFontSize": 12.5, "title": null}},
            "y2": {"field": "h"},
            "color": {"condition": {"test": "datum.c >= datum.o", "value": "#8eea8e"}, "value": "#e52b2b"}
          }
        },
        {
          "data": {"name": "ohlc"},
          "mark": {"type": "bar", "strokeWidth": 1, "clip": true},
          "encoding": {
            "x": {"field": "i", "type": "quantitative", "axis": null},
            "y": {"field": "o", "type": "quantitative", "axis": null},
            "y2": {"field": "c"},
            "size": {"value": 2.4},
            "fill": {"condition": {"test": "datum.c >= datum.o", "value": "#141a1c"}, "value": "#e52b2b"},
            "stroke": {"condition": {"test": "datum.c >= datum.o", "value": "#8eea8e"}, "value": "#e52b2b"}
          }
        },
        {
          "data": {"name": "ma"},
          "mark": {"type": "line", "color": "#f0df7a", "strokeWidth": 1, "interpolate": "monotone", "clip": true},
          "encoding": {
            "x": {"field": "i", "type": "quantitative", "axis": null},
            "y": {"field": "s", "type": "quantitative", "axis": null}
          }
        },
        {
          "data": {"name": "ma"},
          "mark": {"type": "line", "color": "#e8ad50", "strokeWidth": 1, "interpolate": "monotone", "clip": true},
          "encoding": {
            "x": {"field": "i", "type": "quantitative", "axis": null},
            "y": {"field": "f", "type": "quantitative", "axis": null}
          }
        },
        {
          "data": {"name": "notes"},
          "transform": [{"filter": "datum.kind === 'support' || datum.kind === 'resistance'"}],
          "mark": {"type": "rule", "color": "#2aa0dc", "strokeWidth": 1.2, "clip": true},
          "encoding": {
            "x": {"field": "i", "type": "quantitative", "axis": null},
            "x2": {"field": "i2"},
            "y": {"field": "p", "type": "quantitative", "axis": null},
            "y2": {"field": "p2"}
          }
        },
        {
          "data": {"name": "notes"},
          "transform": [{"filter": "datum.kind === 'level'"}],
          "mark": {"type": "rule", "color": "#1fa2e8", "strokeWidth": 3, "clip": true},
          "encoding": {
            "x": {"field": "i", "type": "quantitative", "axis": null},
            "x2": {"field": "i2"},
            "y": {"field": "p", "type": "quantitative", "axis": null},
            "y2": {"field": "p2"}
          }
        },
        {
          "data": {"name": "notes"},
          "transform": [{"filter": "datum.kind === 'zone'"}],
          "mark": {"type": "rect", "filled": false, "stroke": "#1fa2e8", "strokeWidth": 2.6},
          "encoding": {
            "x": {"field": "i", "type": "quantitative", "axis": null},
            "x2": {"field": "i2"},
            "y": {"field": "p", "type": "quantitative", "axis": null},
            "y2": {"field": "p2"}
          }
        },
        {
          "data": {"name": "sketch"},
          "transform": [{"filter": "datum.path === 'ideal'"}],
          "mark": {"type": "line", "color": "#22b14c", "strokeWidth": 2.6},
          "encoding": {
            "x": {"field": "i", "type": "quantitative", "axis": null},
            "y": {"field": "p", "type": "quantitative", "axis": null}
          }
        },
        {
          "data": {"name": "sketch"},
          "transform": [{"filter": "datum.path === 'entry'"}],
          "mark": {"type": "line", "color": "#a349a4", "strokeWidth": 2.6},
          "encoding": {
            "x": {"field": "i", "type": "quantitative", "axis": null},
            "y": {"field": "p", "type": "quantitative", "axis": null}
          }
        },
        {
          "data": {"name": "notes"},
          "transform": [{"filter": "datum.kind === 'trigger'"}],
          "mark": {"type": "rule", "color": "#a349a4", "strokeWidth": 2},
          "encoding": {
            "x": {"field": "i", "type": "quantitative", "axis": null},
            "x2": {"field": "i2"},
            "y": {"field": "p", "type": "quantitative", "axis": null}
          }
        },
        {
          "data": {"name": "notes"},
          "transform": [{"filter": "datum.kind === 'ring'"}],
          "mark": {"type": "point", "shape": "M -1 0 A 1 0.87 0 1 1 1 0 A 1 0.87 0 1 1 -1 0 Z", "size": 3600, "filled": false, "stroke": "#e6e6e6", "strokeWidth": 1, "opacity": 1},
          "encoding": {
            "x": {"field": "i", "type": "quantitative", "axis": null},
            "y": {"field": "p", "type": "quantitative", "axis": null}
          }
        },
        {
          "data": {"name": "notes"},
          "transform": [{"filter": "datum.kind === 'leader'"}],
          "mark": {"type": "rule", "color": "#e0e0e0", "strokeWidth": 1},
          "encoding": {
            "x": {"field": "i", "type": "quantitative", "axis": null},
            "x2": {"field": "i2"},
            "y": {"field": "p", "type": "quantitative", "axis": null},
            "y2": {"field": "p2"}
          }
        },
        {
          "data": {"name": "notes"},
          "transform": [{"filter": "datum.kind === 'callout'"}],
          "mark": {"type": "rect", "filled": false, "stroke": "#c9c9c9", "strokeWidth": 1.2},
          "encoding": {
            "x": {"field": "i", "type": "quantitative", "axis": null},
            "x2": {"field": "i2"},
            "y": {"field": "p", "type": "quantitative", "axis": null},
            "y2": {"field": "p2"}
          }
        },
        {
          "data": {"name": "notes"},
          "transform": [{"filter": "datum.kind === 'callout_text'"}],
          "mark": {"type": "text", "align": "left", "baseline": "middle", "font": "Lato", "fontWeight": "bold", "fontSize": 21, "color": "#d6d6d6"},
          "encoding": {
            "x": {"field": "i", "type": "quantitative", "axis": null},
            "y": {"field": "p", "type": "quantitative", "axis": null},
            "text": {"field": "text"}
          }
        },
        {
          "data": {"name": "notes"},
          "transform": [{"filter": "datum.kind === 'badge'"}],
          "mark": {"type": "rect", "filled": false, "stroke": "#a23fb2", "strokeWidth": 2.5},
          "encoding": {
            "x": {"field": "i", "type": "quantitative", "axis": null},
            "x2": {"field": "i2"},
            "y": {"field": "p", "type": "quantitative", "axis": null},
            "y2": {"field": "p2"}
          }
        },
        {
          "data": {"name": "notes"},
          "transform": [{"filter": "datum.kind === 'badge_text'"}],
          "mark": {"type": "text", "align": "center", "baseline": "middle", "font": "Lato", "fontWeight": "bold", "fontSize": 52, "color": "#d2d2d2"},
          "encoding": {
            "x": {"field": "i", "type": "quantitative", "axis": null},
            "y": {"field": "p", "type": "quantitative", "axis": null},
            "text": {"field": "text"}
          }
        }
      ]
    },
    {
      "width": 1733,
      "height": 177,
      "resolve": {"axis": {"x": "independent", "y": "independent"}},
      "layer": [
        {
          "data": {"name": "ohlc"},
          "mark": {"type": "line", "color": "#f4f4f4", "strokeWidth": 1, "clip": true},
          "encoding": {
            "x": {"field": "i", "type": "quantitative",
              "scale": {"domain": [-0.6, 432.65], "nice": false, "zero": false},
              "axis": {"values": [4,24,47,64,87,108,129,152,173,195,217,236,257,277,298,317,340,360,382,405,425],
                "grid": true, "gridColor": "#2f383c", "labels": false, "ticks": false, "domain": false, "title": null}},
            "y": {"field": "k", "type": "quantitative",
              "scale": {"domain": [-4.93, 104.1], "nice": false, "zero": false},
              "axis": {"orient": "right", "values": [0,10,20,30,40,50,60,70,80,90,100],
                "labelExpr": "datum.value + '%'", "labelOverlap": false, "labelBound": false,
                "grid": true, "gridColor": {"condition": {"test": "datum.value === 0 || datum.value === 100", "value": "#3a4347"}, "value": "#20282b"},
                "ticks": false, "domain": false, "labelPadding": 3, "labelColor": "#b3b8bb", "labelFont": "Liberation Sans", "labelFontSize": 11.5, "title": null}}
          }
        },
        {
          "data": {"name": "ohlc"},
          "transform": [{"window": [{"op": "mean", "field": "k", "as": "d"}], "frame": [-2, 0], "sort": [{"field": "i"}]}],
          "mark": {"type": "line", "color": "#e03a3a", "strokeWidth": 1, "clip": true},
          "encoding": {
            "x": {"field": "i", "type": "quantitative", "axis": null},
            "y": {"field": "d", "type": "quantitative", "axis": null}
          }
        },
        {
          "data": {"name": "stochNote"},
          "mark": {"type": "point", "shape": "M -0.8 0 A 0.8 1 0 1 1 0.8 0 A 0.8 1 0 1 1 -0.8 0 Z", "size": 8100, "filled": false, "stroke": "#2fb34d", "strokeWidth": 3, "opacity": 1},
          "encoding": {
            "x": {"field": "i", "type": "quantitative", "axis": null},
            "y": {"field": "k", "type": "quantitative", "axis": null}
          }
        }
      ]
    },
    {
      "width": 1733,
      "height": 173,
      "data": {"name": "ohlc"},
      "mark": {"type": "bar", "clip": true},
      "encoding": {
        "x": {"field": "i", "type": "quantitative",
          "scale": {"domain": [-0.6, 432.65], "nice": false, "zero": false},
          "axis": {"values": [4,24,47,64,87,108,129,152,173,195,217,236,257,277,298,317,340,360,382,405,425],
            "labelExpr": "['Feb','Mar','Apr','May','Jun','Jul','Aug','Sep','Oct','Nov','Dec','2018','Feb','Mar','Apr','May','Jun','Jul','Aug','Sep','Oct'][indexof([4,24,47,64,87,108,129,152,173,195,217,236,257,277,298,317,340,360,382,405,425], datum.value)]",
            "grid": true, "gridColor": "#2f383c", "ticks": false, "domain": false,
            "labelAlign": "left", "labelBaseline": "top", "labelPadding": 1, "labelOffset": 3,
            "labelOverlap": false, "labelFlush": false, "labelBound": false,
            "labelColor": "#aab0b3", "labelFont": "Liberation Sans", "labelFontSize": 12, "title": null}},
        "y": {"field": "v", "type": "quantitative",
          "scale": {"domain": [-31.9, 1642.3], "nice": false, "zero": false},
          "axis": {"orient": "right", "values": [0,250,500,750,1000,1250,1500],
            "labelExpr": "datum.value + 'K'", "labelOverlap": false, "labelBound": false,
            "grid": true, "gridColor": {"condition": {"test": "datum.value === 0", "value": "#3a4347"}, "value": "#20282b"},
            "ticks": false, "domain": false, "labelPadding": 3, "labelColor": "#b3b8bb", "labelFont": "Liberation Sans", "labelFontSize": 12.5, "title": null}},
        "y2": {"datum": 0},
        "size": {"value": 2.6},
        "color": {"condition": {"test": "datum.c >= datum.o", "value": "#3aaa48"}, "value": "#b4504c"}
      }
    }
  ]
}
